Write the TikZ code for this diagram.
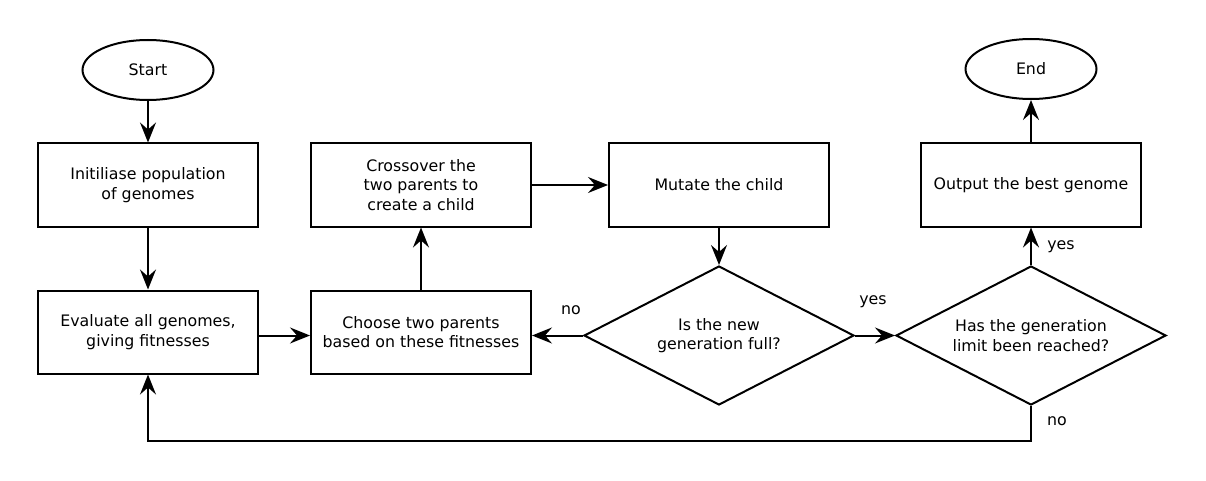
\documentclass[tikz,border=0pt]{standalone}
\usepackage{fontspec}
\setmainfont{DejaVu Sans}
\usetikzlibrary{shapes.geometric,arrows.meta,calc}
\begin{document}
\begin{tikzpicture}[x=1pt,y=-1pt,
  font=\fontsize{15.8}{19.5}\selectfont,
  every path/.style={line width=2pt},
  proc/.style={draw, rectangle, minimum width=220pt, minimum height=83pt, align=center, inner sep=0pt},
  term/.style={draw, ellipse, minimum width=131pt, minimum height=60pt, inner sep=0pt},
  decide/.style={draw, diamond, minimum width=270pt, minimum height=139pt, inner sep=0pt},
  arr/.style={-{Stealth[length=20pt,width=16pt,inset=7pt]}, line width=2pt},
  lbl/.style={inner sep=0pt}]
\useasboundingbox (0,0) rectangle (1206,481);
\node[term] (start) at (148,70) {Start};
\node[proc] (init) at (148,185) {Initiliase population\\of genomes};
\node[proc] (eval) at (148,332) {Evaluate all genomes,\\giving fitnesses};
\node[proc] (choose) at (421,332) {Choose two parents\\based on these fitnesses};
\node[proc] (cross) at (421,185) {Crossover the\\two parents to\\create a child};
\node[proc] (mutate) at (719,185) {Mutate the child};
\node[decide, label={[align=center, inner sep=0pt]center:Is the new\\generation full?}] (dec1) at (719,335.5) {};
\node[decide, label={[align=center, inner sep=0pt]center:Has the generation\\limit been reached?}] (dec2) at (1031,335.5) {};
\node[proc] (output) at (1031,185) {Output the best genome};
\node[term] (end) at (1031,69) {End};
\coordinate (loop) at (1031,441);

\draw[arr] (start) -- (init);
\draw[arr] (init) -- (eval);
\draw[arr] (eval.east |- dec1.west) -- (choose.west |- dec1.west);
\draw[arr] (choose) -- (cross);
\draw[arr] (cross) -- (mutate);
\draw[arr] (mutate) -- (dec1);
\draw[arr] (dec1.west) -- (choose.east |- dec1.west);
\draw[arr] (dec1.east) -- (dec2.west);
\draw[arr] (dec2.north) -- (output);
\draw[arr] (output) -- (end);
\draw[arr] (dec2.south) -- (loop) -| (eval.south);

\node[lbl] (lno1) at (571,310) {no};
\node[lbl] (lyes1) at (873,302) {yes};
\node[lbl] (lyes2) at (1061,247) {yes};
\node[lbl] (lno2) at (1057,421) {no};
\end{tikzpicture}
\end{document}
